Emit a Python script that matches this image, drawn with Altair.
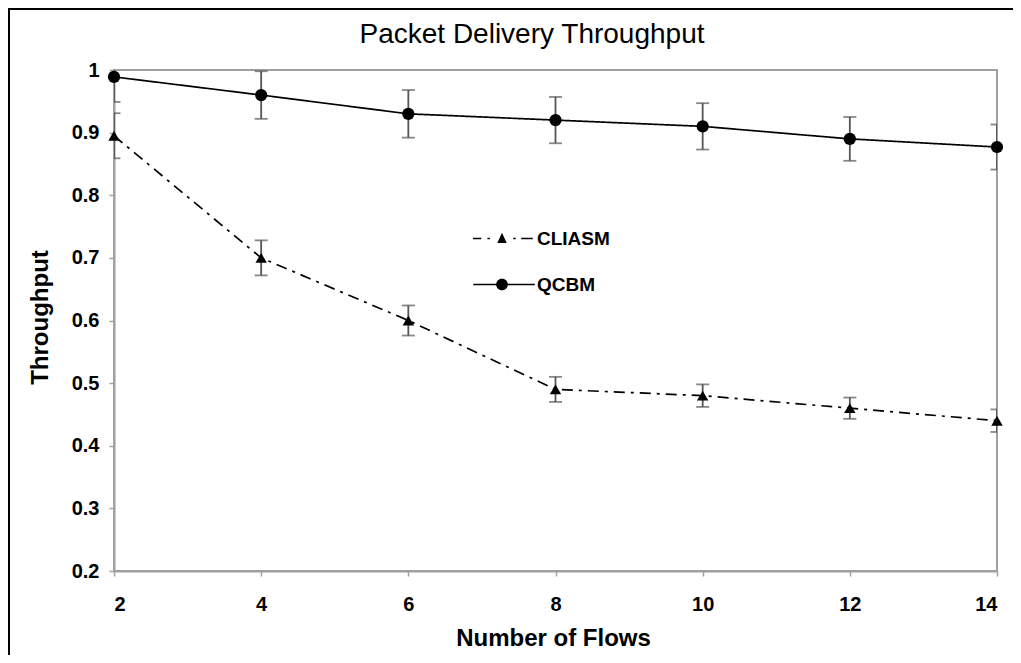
import altair as alt
import pandas as pd
import numpy as np

# ---------------- data ----------------
flows = [2, 4, 6, 8, 10, 12, 14]
cliasm = [0.895, 0.70, 0.60, 0.49, 0.48, 0.46, 0.44]
cliasm_err = [0.036, 0.028, 0.024, 0.02, 0.018, 0.017, 0.018]
qcbm = [0.989, 0.96, 0.93, 0.92, 0.91, 0.89, 0.877]
qcbm_err = [0.04, 0.038, 0.038, 0.037, 0.037, 0.035, 0.036]
series_names = ["CLIASM", "QCBM"]
y_ticks = [0.2, 0.3, 0.4, 0.5, 0.6, 0.7, 0.8, 0.9, 1.0]
x_ticks = [2, 4, 6, 8, 10, 12, 14]

rows = []
for name, vals, errs in [("CLIASM", cliasm, cliasm_err), ("QCBM", qcbm, qcbm_err)]:
    for f, v, e in zip(flows, vals, errs):
        rows.append({"flows": f, "throughput": v, "lo": v - e, "hi": v + e, "series": name})
df = pd.DataFrame(rows)

# ---------------- legend glyphs (line + marker, drawn as filled shapes) ----------------
HW = 0.042  # half line thickness in glyph units


def seg(a, b):
    return f"M{a:.3f},{-HW:.3f}L{b:.3f},{-HW:.3f}L{b:.3f},{HW:.3f}L{a:.3f},{HW:.3f}Z"


def circle_path(r, n=28):
    pts = [(r * np.cos(2 * np.pi * k / n), r * np.sin(2 * np.pi * k / n)) for k in range(n)]
    return "M" + "L".join(f"{x:.3f},{y:.3f}" for x, y in pts) + "Z"


cliasm_glyph = (seg(-1.42, -1.01) + seg(-0.71, -0.59) + seg(0.55, 0.67) + seg(0.94, 1.50)
                + "M-0.23,0.22L0.23,0.22L0,-0.28Z")
qcbm_glyph = seg(-1.40, -0.28) + seg(0.28, 1.60) + circle_path(0.285)

FONT = "Liberation Sans"
GREY = "#a0a0a0"

x_enc = alt.X("flows:Q", scale=alt.Scale(domain=[2, 14], nice=False, zero=False),
              axis=alt.Axis(values=x_ticks, title="Number of Flows", format="d"))
y_axis = alt.Axis(values=y_ticks, title="Throughput", format=".1~f")
y_scale = alt.Scale(domain=[0.2, 1.0], nice=False, zero=False)

base = alt.Chart(df)

lines = base.mark_line(color="black", strokeWidth=1.7).encode(
    x=x_enc,
    y=alt.Y("throughput:Q", scale=y_scale, axis=y_axis),
    strokeDash=alt.StrokeDash("series:N",
                              scale=alt.Scale(domain=series_names, range=[[11, 6, 3, 6], [1, 0]]),
                              legend=None),
)

errbars = base.mark_errorbar(
    clip=True,
    ticks={"size": 13, "thickness": 1.8, "color": "#555555"},
    rule={"strokeWidth": 1.8, "color": "#555555"},
).encode(
    x=x_enc,
    y=alt.Y("lo:Q", scale=y_scale, axis=y_axis),
    y2="hi:Q",
)

points = base.mark_point(filled=True, opacity=1, color="black").encode(
    x=x_enc,
    y=alt.Y("throughput:Q", scale=y_scale, axis=y_axis),
    shape=alt.Shape("series:N", scale=alt.Scale(domain=series_names, range=["triangle-up", "circle"]),
                    legend=None),
    size=alt.Size("series:N", scale=alt.Scale(domain=series_names, range=[130, 150]), legend=None),
)

legend_layer = alt.Chart(pd.DataFrame({"series": series_names})).mark_point(
    filled=True, opacity=1, color="black", clip=True
).encode(
    x=alt.value(-500),
    y=alt.value(-500),
    shape=alt.Shape("series:N",
                    scale=alt.Scale(domain=series_names, range=[cliasm_glyph, qcbm_glyph]),
                    legend=alt.Legend(orient="none", legendX=367.5, legendY=148, title=None,
                                      labelFontSize=19, labelFontWeight="bold", labelFont=FONT,
                                      labelColor="black", symbolSize=1681, symbolStrokeWidth=0,
                                      symbolFillColor="black",
                                      labelOffset=14.5, rowPadding=15, padding=0, symbolOpacity=1)),
)

frame_df = pd.DataFrame({"k": [0]})
border_left = alt.Chart(frame_df).mark_rule(color="black", strokeWidth=3).encode(
    x=alt.value(-105.5), y=alt.value(-63), y2=alt.value(600))
border_top = alt.Chart(frame_df).mark_rule(color="black", strokeWidth=3).encode(
    x=alt.value(-107), x2=alt.value(910), y=alt.value(-61.5))

chart = alt.layer(lines, errbars, points, legend_layer, border_left, border_top).resolve_scale(
    shape="independent"
).properties(
    width=883,
    height=501,
    autosize=alt.AutoSizeParams(type="none"),
    padding={"left": 106, "top": 62, "right": 16, "bottom": 84},
    background="white",
    title=alt.TitleParams("Packet Delivery Throughput", fontSize=28, font=FONT, fontWeight="normal",
                          color="black", anchor="middle", frame="group", dx=-23.5, dy=86, offset=21,
                          baseline="alphabetic"),
).configure_view(
    stroke=GREY, strokeWidth=2
).configure_axis(
    grid=False, domainColor=GREY, domainWidth=2, tickColor=GREY, tickWidth=1.5, tickSize=5,
    labelFont=FONT, labelFontSize=20, labelFontWeight="bold", labelColor="black",
    titleFont=FONT, titleFontWeight="bold", titleColor="black",
).configure_axisX(
    labelPadding=18, titleFontSize=24, titleX=439, titleY=74, titleBaseline="alphabetic",
    titleAlign="center",
).configure_axisY(
    labelPadding=10, titleFontSize=24, titleX=-74, titleY=247, titleAngle=270,
    titleBaseline="middle", titleAlign="center",
)

chart.save("out.html", embed_options={"renderer": "svg", "actions": False})
